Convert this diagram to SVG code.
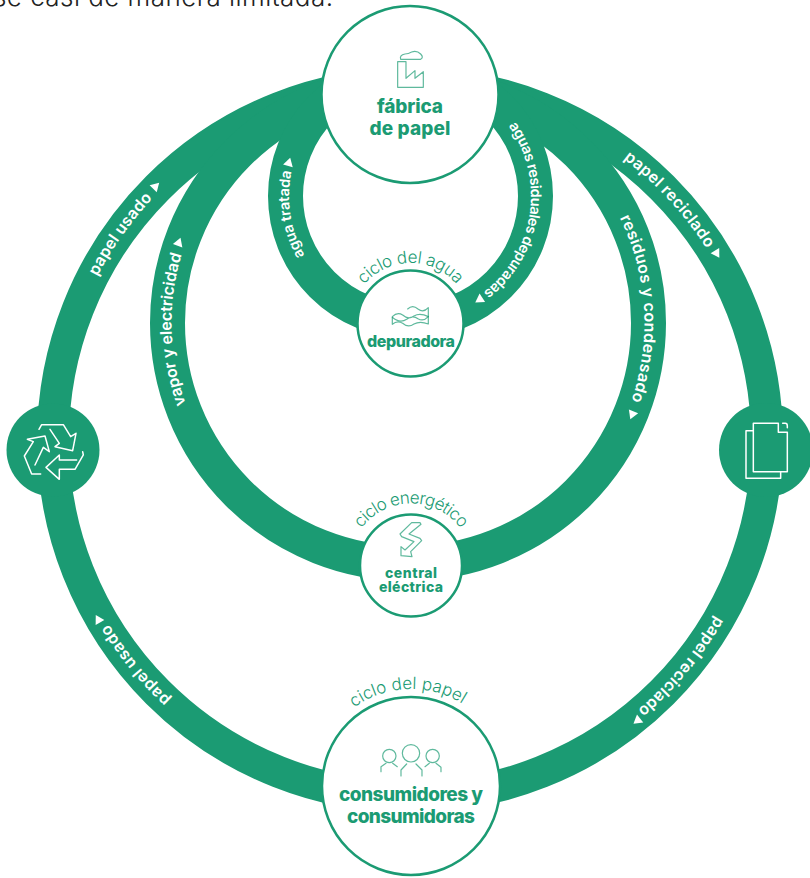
<svg xmlns="http://www.w3.org/2000/svg" width="810" height="878" viewBox="0 0 810 878">
<style>
.ring{fill:none;stroke:#1b9b73}
.node{fill:#fff;stroke:#1b9b73;stroke-width:2.5}
.hub{fill:#1b9b73}
.lab{font-family:"Inter","Liberation Sans",sans-serif;font-weight:600;font-size:16px;fill:#fff}
.small{font-size:14.5px}
.cyc{font-family:"Inter","Liberation Sans",sans-serif;font-weight:300;font-size:17px;fill:#1b9b73}
.name{font-family:"Inter","Liberation Sans",sans-serif;font-weight:800;fill:#1b9b73;text-anchor:middle}
.ico{fill:none;stroke:#1b9b73;stroke-width:3.6;stroke-linejoin:round;stroke-linecap:round;opacity:.7}
.icw{fill:none;stroke:#fff;stroke-width:4.5;stroke-linejoin:round;stroke-linecap:round}
.tri{fill:#fff}
</style>
<defs>
<polygon id="tri" class="tri" points="-4,-5 4.5,0 -4,5"/>
<path id="p1" d="M97.2 276.5A353 353 0 0 1 183.1 169.6"/>
<path id="p2" d="M185.8 403.9A236.5 236.5 0 0 1 193.7 223"/>
<path id="p3" d="M304.6 255.4A121 121 0 0 1 296.3 154.6"/>
<path id="p4" d="M508.6 125.9A121 121 0 0 1 470.5 300.8"/>
<path id="p5" d="M619.8 217.9A236.5 236.5 0 0 1 622.3 423"/>
<path id="p6" d="M623.4 158.8A353 353 0 0 1 721.7 274.3"/>
<path id="p7" d="M716 616A353 353 0 0 1 612.5 729.2"/>
<path id="p8" d="M170.7 699.5A353 353 0 0 1 90 589.2"/>
<path id="c1" d="M364.2 284.6A60.5 60.5 0 0 1 460.1 288.8"/>
<path id="c2" d="M361.5 528.2A62 62 0 0 1 463.6 532.6"/>
<path id="c3" d="M354 707.5A97 97 0 0 1 468 707.5"/>
</defs>
<rect width="810" height="878" fill="#fff"/>
<text x="-7" y="6" font-family="Inter,'Liberation Sans',sans-serif" font-weight="300" font-size="26" fill="#222" textLength="340">se casi de manera limitada.</text>

<g id="connectors">
<circle class="ring" cx="410" cy="440" r="357" stroke-width="32"/>
<circle class="ring" cx="408" cy="323" r="240.5" stroke-width="35"/>
<circle class="ring" cx="410.5" cy="196" r="125" stroke-width="35"/>
<text class="lab"><textPath href="#p1" textLength="96">papel usado</textPath></text>
<text class="lab"><textPath href="#p2" textLength="152">vapor y electricidad</textPath></text>
<text class="lab small"><textPath href="#p3" textLength="87">agua tratada</textPath></text>
<text class="lab small"><textPath href="#p4" textLength="186">aguas residuales depuradas</textPath></text>
<text class="lab"><textPath href="#p5" textLength="188">residuos y condensado</textPath></text>
<text class="lab"><textPath href="#p6" textLength="123">papel reciclado</textPath></text>
<text class="lab"><textPath href="#p7" textLength="123">papel reciclado</textPath></text>
<text class="lab"><textPath href="#p8" textLength="98">papel usado</textPath></text>
<use href="#tri" transform="translate(156 186) rotate(-45)"/>
<use href="#tri" transform="translate(179 242) rotate(-70.5)"/>
<use href="#tri" transform="translate(289 162) rotate(-74.3)"/>
<use href="#tri" transform="translate(479 300) rotate(146.4)"/>
<use href="#tri" transform="translate(632 415) rotate(112.3)"/>
<use href="#tri" transform="translate(717 254) rotate(58.8)"/>
<use href="#tri" transform="translate(637 721) rotate(141.1)"/>
<use href="#tri" transform="translate(98 619) rotate(240.2)"/>
</g>

<g id="fabrica">
<circle class="node" cx="410" cy="94.5" r="88.5"/>
<g transform="translate(300 0) scale(.3333)">
<path class="ico" d="M293 185V262H370V215L345 235V212L318 235V185Z"/>
<path class="ico" d="M302 178H362Q372 172 362 162Q350 150 335 156Q325 162 315 162Q298 165 302 178Z"/>
</g>
<text class="name" x="410" y="113" font-size="19" textLength="66">fábrica</text>
<text class="name" x="410" y="135" font-size="19" textLength="81">de papel</text>
</g>

<g id="depuradora">
<circle class="node" cx="410.5" cy="323.5" r="53"/>
<g transform="translate(260 120) scale(.3333)">
<path class="ico" d="M443 567Q458 553 474 567Q490 580 505 563V590"/>
<path class="ico" d="M397 590Q412 575 428 585Q445 600 462 588Q480 578 505 590Q490 606 474 596Q458 584 440 598Q420 612 397 592Z"/>
<path class="ico" d="M397 592V613Q412 600 428 610Q445 625 462 612Q480 602 505 612V590"/>
</g>
<text class="name" x="411" y="346.5" font-size="16" textLength="88">depuradora</text>
<text class="cyc"><textPath href="#c1" textLength="105">ciclo del agua</textPath></text>
</g>

<g id="central">
<circle class="node" cx="411" cy="565.5" r="51"/>
<g transform="translate(340 490) scale(.3333)">
<path class="ico" d="M215 98H240L243 103L207 132L240 145L245 152L212 185L216 200L183 197V170L195 180L222 155L185 140L180 132Z"/>
</g>
<text class="name" x="411" y="578" font-size="14" textLength="52">central</text>
<text class="name" x="411" y="592" font-size="14" textLength="64">eléctrica</text>
<text class="cyc"><textPath href="#c2" textLength="115">ciclo energético</textPath></text>
</g>

<g id="consumidores">
<circle class="node" cx="411" cy="786" r="89"/>
<g transform="translate(310 670) scale(.3333)">
<circle class="ico" cx="303" cy="250" r="26"/>
<path class="ico" d="M273 318V300L290 282M318 282L336 300V318"/>
<circle class="ico" cx="238" cy="258" r="20"/>
<path class="ico" d="M213 305V290L228 280M248 280L262 290"/>
<circle class="ico" cx="368" cy="258" r="20"/>
<path class="ico" d="M345 290L358 280M378 280L393 292V305"/>
</g>
<text class="name" x="411" y="800.5" font-size="19" textLength="144">consumidores y</text>
<text class="name" x="411" y="823" font-size="19" textLength="128">consumidoras</text>
<text class="cyc"><textPath href="#c3" textLength="115">ciclo del papel</textPath></text>
</g>

<g id="reciclaje">
<circle class="hub" cx="53" cy="450" r="46.5"/>
<g transform="translate(0 390) scale(.3333)">
<path class="icw" d="M150 118L178 160L165 170L218 182L228 130L212 140L190 104H125L117 118"/>
<path class="icw" d="M248 185L250 195L225 238H178V268L138 232L178 195V210H230"/>
<path class="icw" d="M122 252H95L73 198L100 155L82 148L135 138L148 185L130 172L105 225"/>
</g>
</g>

<g id="papel">
<circle class="hub" cx="766" cy="450" r="47"/>
<g transform="translate(710 390) scale(.3333)">
<path class="icw" d="M205 100H130V245H232V127H205Z"/>
<path class="icw" d="M218 100H226Q232 100 232 108V113"/>
<path class="icw" d="M130 122H108V265H212V245"/>
</g>
</g>
</svg>
